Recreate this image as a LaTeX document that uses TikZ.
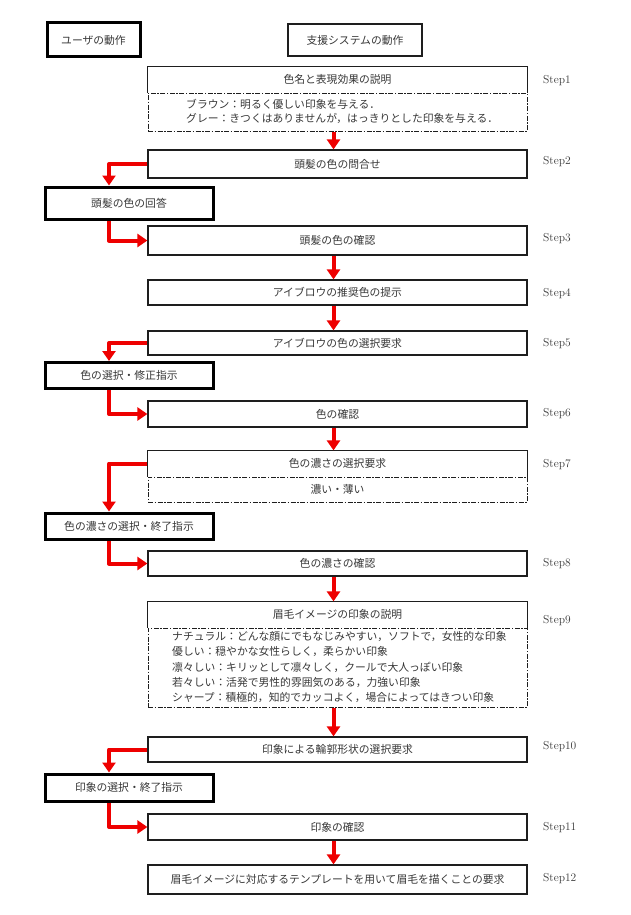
\documentclass[tikz,border=0pt]{standalone}
\usepackage{fontspec}
\newfontfamily\jpfont{Noto Sans CJK JP}
\usepackage{xcolor}
\usetikzlibrary{arrows.meta,calc}
\definecolor{FlowRed}{RGB}{238,0,0}
\definecolor{BoxLine}{RGB}{30,30,30}
\definecolor{TextGray}{RGB}{55,55,55}
\newcommand{\jptext}{\jpfont\fontsize{10.8}{12}\selectfont}

\begin{document}
\begin{tikzpicture}[x=1pt,y=-1pt,
    sysbox/.style={draw=BoxLine, line width=1.2pt, fill=white, minimum width=379pt, minimum height=25pt, inner sep=0pt, font=\jptext, text=TextGray},
    headbox/.style={sysbox, draw=none},
    boxline/.style={draw=BoxLine, line width=1.2pt},
    userbox/.style={draw=black, line width=3pt, fill=white, minimum width=168pt, minimum height=26pt, inner sep=0pt, font=\jptext, text=TextGray},
    notebox/.style={draw=BoxLine, line width=1pt, dash pattern=on 5pt off 1.5pt on 1.5pt off 1.5pt, minimum width=379pt, inner sep=0pt, font=\jptext, text=TextGray},
    notetext/.style={anchor=west, inner sep=0pt, font=\jptext, text=TextGray},
    steplabel/.style={anchor=west, inner sep=0pt, font=\fontsize{11.5}{13}\selectfont, text=TextGray},
    flow/.style={FlowRed, line width=4pt, line join=round, -{Triangle[width=13pt,length=10pt]}}
  ]
    \useasboundingbox (0,0) rectangle (630,915);
    % column heads
    \node[userbox, minimum width=93pt, minimum height=34pt] (uhead) at (93.5,40) {ユーザの動作};
    \node[sysbox, minimum width=134pt, minimum height=32pt] (shead) at (355,40) {支援システムの動作};
    % system side
    \node[headbox] (s1) at (337.5,79.5) {色名と表現効果の説明};
    \draw[boxline] (s1.south west) |- (s1.north east) -- (s1.south east);
    \node[notebox, minimum height=38pt, anchor=north] (n1) at (s1.south) {};
    \node[notetext] (n1a) at (186,104) {ブラウン：明るく優しい印象を与える．};
    \node[notetext] (n1b) at (186,119) {グレー：きつくはありませんが，はっきりとした印象を与える．};
    \node[sysbox, minimum height=28pt] (s2) at (337.5,164) {頭髪の色の問合せ};
    \node[sysbox, minimum height=29pt] (s3) at (337.5,240.5) {頭髪の色の確認};
    \node[sysbox] (s4) at (337.5,292.5) {アイブロウの推奨色の提示};
    \node[sysbox, minimum height=24pt] (s5) at (337.5,343) {アイブロウの色の選択要求};
    \node[sysbox, minimum height=26pt] (s6) at (337.5,414) {色の確認};
    \node[headbox] (s7) at (337.5,463.5) {色の濃さの選択要求};
    \draw[boxline] (s7.south west) |- (s7.north east) -- (s7.south east);
    \node[notebox, minimum height=25pt, anchor=north] (n7) at (s7.south) {濃い・薄い};
    \node[sysbox] (s8) at (337.5,563.5) {色の濃さの確認};
    \node[headbox] (s9) at (337.5,614.5) {眉毛イメージの印象の説明};
    \draw[boxline] (s9.south west) |- (s9.north east) -- (s9.south east);
    \node[notebox, minimum height=79pt, anchor=north] (n9) at (s9.south) {};
    \foreach \txt [count=\k] in {{ナチュラル：どんな顔にでもなじみやすい，ソフトで，女性的な印象},
        {優しい：穏やかな女性らしく，柔らかい印象},
        {凛々しい：キリッとして凛々しく，クールで大人っぽい印象},
        {若々しい：活発で男性的雰囲気のある，力強い印象},
        {シャープ：積極的，知的でカッコよく，場合によってはきつい印象}}
      {\node[notetext] (n9l\k) at (172,621+15.4*\k) {\txt};}
    \node[sysbox] (s10) at (337.5,749.5) {印象による輪郭形状の選択要求};
    \node[sysbox, minimum height=26pt] (s11) at (337.5,827) {印象の確認};
    \node[sysbox, minimum height=29pt] (s12) at (337.5,879.5) {眉毛イメージに対応するテンプレートを用いて眉毛を描くことの要求};
    % user side
    \node[userbox, minimum height=32pt] (u2) at (129,203) {頭髪の色の回答};
    \node[userbox] (u5) at (129,375.5) {色の選択・修正指示};
    \node[userbox] (u7) at (129,526) {色の濃さの選択・終了指示};
    \node[userbox, minimum height=27pt] (u10) at (129,787.5) {印象の選択・終了指示};
    % step numbers
    \foreach \k/\yy in {1/81,2/162,3/239,4/294,5/344,6/414,7/465,8/564,9/621,10/747,11/828,12/879}
      {\node[steplabel] (step\k) at (543,\yy) {Step\k};}
    % flow
    \draw[flow] ([xshift=-4]n1.south) -- ([xshift=-4]s2.north);
    \draw[flow] ([xshift=-4]s3.south) -- ([xshift=-4]s4.north);
    \draw[flow] ([xshift=-4]s4.south) -- ([xshift=-4]s5.north);
    \draw[flow] ([xshift=-4]s6.south) -- ([xshift=-4]s7.north);
    \draw[flow] ([xshift=-4]s8.south) -- ([xshift=-4]s9.north);
    \draw[flow] ([xshift=-4]n9.south) -- ([xshift=-4]s10.north);
    \draw[flow] ([xshift=-4]s11.south) -- ([xshift=-4]s12.north);
    \foreach \from/\to/\next in {s2/u2/s3,s5/u5/s6,s7/u7/s8,s10/u10/s11}
      {\draw[flow] (\from.west) -| ([xshift=-20]\to.north);
       \draw[flow] ([xshift=-20]\to.south) |- (\next.west);}
  \end{tikzpicture}
\end{document}
